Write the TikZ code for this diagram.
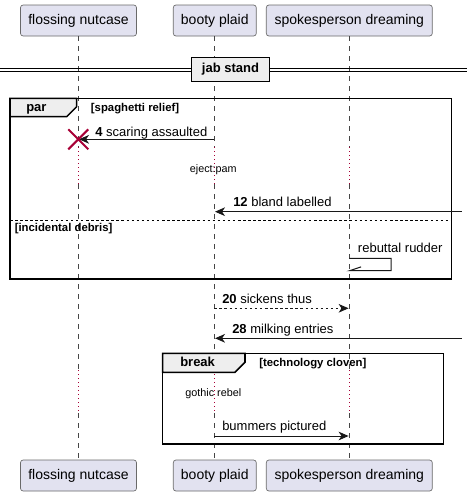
\documentclass[tikz,border=0pt]{standalone}
\usepackage{fontspec}
\setmainfont{Liberation Sans}
\usetikzlibrary{arrows.meta}
\definecolor{partfill}{HTML}{E2E2F0}
\definecolor{partline}{HTML}{181818}
\definecolor{delayred}{HTML}{A80036}
\definecolor{tabfill}{HTML}{EEEEEE}
\tikzset{
  participant/.style={draw=partline!65, fill=partfill, rounded corners=2pt, line width=0.5pt,
    inner sep=0pt, minimum height=23.25pt, font=\fontsize{10.5}{12}\selectfont},
  lifeline/.style={draw=partline!80, line width=0.5pt, dash pattern=on 3.75pt off 3.75pt},
  delayline/.style={draw=delayred, line width=0.75pt, dash pattern=on 0.75pt off 2.25pt},
  msg/.style={draw=partline, line width=0.75pt, -{Stealth[length=7.5pt,width=6.5pt,inset=2.2pt]}},
  msgdashed/.style={msg, dash pattern=on 1.9pt off 1.9pt},
  msglabel/.style={anchor=base west, inner sep=0pt, font=\fontsize{9.75}{11}\selectfont},
  delaylabel/.style={anchor=base, inner sep=0pt, font=\fontsize{8.1}{10}\selectfont},
  frameline/.style={draw=black, line width=1.15pt},
  tab/.style={frameline, fill=tabfill},
  framekw/.style={anchor=base west, inner sep=0pt, font=\bfseries\fontsize{9.75}{11}\selectfont},
  framecond/.style={anchor=base west, inner sep=0pt, font=\bfseries\fontsize{8.5}{10}\selectfont},
}
\begin{document}
\begin{tikzpicture}[x=0.75pt,y=-0.75pt]
\useasboundingbox (0,0) rectangle (467,496);
% participants
\node[participant, minimum width=87pt] (ftop) at (78.5,20.5) {flossing nutcase};
\node[participant, minimum width=62.25pt] (btop) at (214.8,20.5) {booty plaid};
\node[participant, minimum width=124.5pt] (stop) at (349.3,20.5) {spokesperson dreaming};
\node[participant, minimum width=87pt] (fbot) at (78.5,475.5) {flossing nutcase};
\node[participant, minimum width=62.25pt] (bbot) at (214.8,475.5) {booty plaid};
\node[participant, minimum width=124.5pt] (sbot) at (349.3,475.5) {spokesperson dreaming};
% lifelines
\foreach \x in {78.3,214.3,349.3}{
  \draw[lifeline] (\x,36) -- (\x,147);
  \draw[delayline] (\x,147) -- (\x,184);
  \draw[lifeline] (\x,184) -- (\x,370);
  \draw[delayline] (\x,370) -- (\x,413);
  \draw[lifeline] (\x,413) -- (\x,460);
}
% separator
\draw[line width=0.75pt] (0,68.3) -- (467,68.3);
\draw[line width=0.75pt] (0,71.7) -- (467,71.7);
\node[draw=black, line width=1.15pt, fill=tabfill, minimum width=58.2pt, minimum height=18.3pt,
  inner sep=0pt, font=\bfseries\fontsize{9.75}{11}\selectfont] (sep) at (230.5,69.5) {jab stand};
% par frame
\draw[frameline] (10,98.3) rectangle (451.7,279);
\draw[tab] (10,98.3) -- (76.7,98.3) -- (76.7,106.7) -- (66.7,116.7) -- (10,116.7) -- cycle;
\node[framekw] (parkw) at (26,111) {par};
\node[framecond] (parc1) at (90.7,111) {[spaghetti relief]};
\draw[line width=0.75pt, dash pattern=on 1.9pt off 1.9pt] (10,220) -- (451.7,220);
\node[framecond] (parc2) at (14.5,231) {[incidental debris]};
% message 4 with destroy
\coordinate (m4s) at (214.3,139.3);
\coordinate (m4e) at (79,139.3);
\draw[msg] (m4s) -- (m4e);
\node[msglabel] (l4) at (95,136) {\textbf{4} scaring assaulted};
\draw[delayred, line width=1.5pt] (68.3,129.3) -- (88.3,149.3) (68.3,149.3) -- (88.3,129.3);
\node[delaylabel] (d1) at (213.3,172.5) {eject:pam};
% message 12
\coordinate (m12s) at (461.7,211.7);
\coordinate (m12e) at (215,211.7);
\draw[msg] (m12s) -- (m12e);
\node[msglabel] (l12) at (233,206.5) {\textbf{12} bland labelled};
% self message
\coordinate (r1) at (349.3,258.3);
\coordinate (r2) at (391,258.3);
\coordinate (r3) at (391,270.7);
\coordinate (r4) at (349.6,270.7);
\draw[line width=0.75pt, partline] (r1) -- (r2) -- (r3) -- (r4) -- ++(11.5,-3.8);
\node[msglabel] (lr) at (357.7,252.5) {rebuttal rudder};
% message 20
\coordinate (m20s) at (214.3,308.3);
\coordinate (m20e) at (348.6,308.3);
\draw[msgdashed] (m20s) -- (m20e);
\node[msglabel] (l20) at (222,303.5) {\textbf{20} sickens thus};
% message 28
\coordinate (m28s) at (461.7,338.3);
\coordinate (m28e) at (215,338.3);
\draw[msg] (m28s) -- (m28e);
\node[msglabel] (l28) at (232,333.5) {\textbf{28} milking entries};
% break frame
\draw[frameline] (162.7,353.3) rectangle (443.3,444);
\draw[tab] (162.7,353.3) -- (245,353.3) -- (245,362.3) -- (235,372.3) -- (162.7,372.3) -- cycle;
\node[framekw] (brkw) at (180,366) {break};
\node[framecond] (brc) at (259,366) {[technology cloven]};
\node[delaylabel] (d2) at (213.3,396) {gothic rebel};
% bummers
\coordinate (mbs) at (214.3,436);
\coordinate (mbe) at (348.6,436);
\draw[msg] (mbs) -- (mbe);
\node[msglabel] (lb) at (222,430.5) {bummers pictured};
\end{tikzpicture}
\end{document}
